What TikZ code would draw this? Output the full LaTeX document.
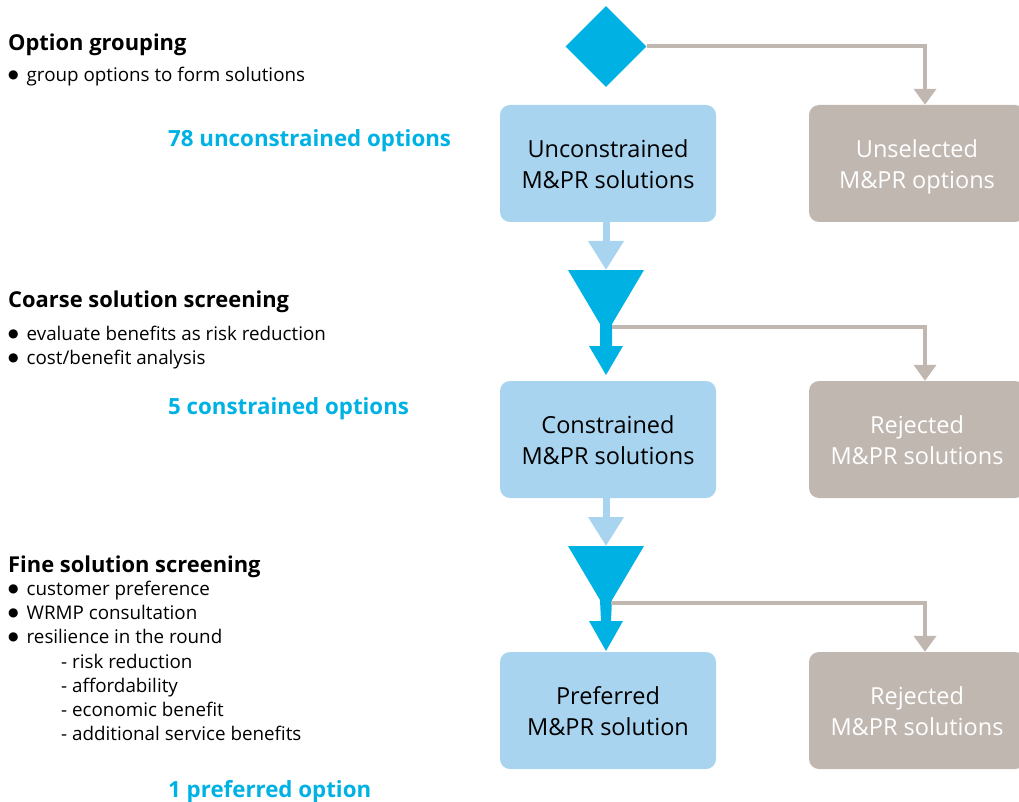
\documentclass[tikz,border=0pt]{standalone}
\usepackage{fontspec}
\setmainfont{Open Sans}
\newfontfamily\symfont{DejaVu Sans}
\usetikzlibrary{arrows.meta,shapes.geometric}
\definecolor{cyanA}{HTML}{00B2E3}
\definecolor{paleblue}{HTML}{A8D4F0}
\definecolor{taupe}{HTML}{C1B7B1}
\newcommand{\bul}{\raisebox{3pt}{\symfont\fontsize{12}{12}\selectfont ●}\hspace{8pt}}
\newcommand{\boxstrut}{\rule[-6.3pt]{0pt}{31pt}}
\begin{document}
\begin{tikzpicture}[x=1pt,y=-1pt,
  solbox/.style={fill=paleblue,rounded corners=10pt,minimum width=216pt,minimum height=117pt,
    align=center,inner sep=0pt,font=\fontsize{23.5}{31}\selectfont,text=black},
  rejbox/.style={solbox,fill=taupe,text=white},
  heading/.style={anchor=base west,inner sep=0pt,font=\fontsize{21.9}{26}\selectfont\bfseries},
  bodytxt/.style={anchor=base west,inner sep=0pt,font=\fontsize{18.8}{22}\selectfont},
  count/.style={anchor=base west,inner sep=0pt,text=cyanA,font=\fontsize{22.3}{26}\selectfont\bfseries},
  feed/.style={paleblue,line width=7pt,-{Triangle[width=34pt,length=29pt]}},
  drop/.style={taupe,line width=4pt,-{Triangle[width=22pt,length=16pt]}},
  funnel/.style={fill=cyanA,draw=none}]
\useasboundingbox (0,0) rectangle (1019,802);
\clip (0,0) rectangle (1019,802);

% decision diamond
\node[diamond,fill=cyanA,minimum width=81pt,minimum height=81pt,inner sep=0pt] (dec) at (606,46.5) {};

% solution boxes
\node[solbox] (u)  at (608,163.5) {\boxstrut Unconstrained\\\boxstrut M\&PR solutions};
\node[rejbox] (us) at (917,163.5) {\boxstrut Unselected\\\boxstrut M\&PR options};
\node[solbox] (c)  at (608,439.5) {\boxstrut Constrained\\\boxstrut M\&PR solutions};
\node[rejbox] (r1) at (917,439.5) {\boxstrut Rejected\\\boxstrut M\&PR solutions};
\node[solbox] (p)  at (608,710.5) {\boxstrut Preferred\\\boxstrut M\&PR solution};
\node[rejbox] (r2) at (917,710.5) {\boxstrut Rejected\\\boxstrut M\&PR solutions};

% screening funnels
\fill[funnel] (568,270) -- (644,270) -- (612,324) -- (612,346) -- (623,346) -- (606,375)
  -- (589,346) -- (600,346) -- (600,324) -- cycle;
\fill[funnel] (568,546) -- (644,546) -- (612,600) -- (611,621) -- (623,621) -- (606,651)
  -- (589,621) -- (601,621) -- (600,600) -- cycle;
\coordinate (f1top) at (606,270);
\coordinate (f1neck) at (612,327);
\coordinate (f2top) at (606,546);
\coordinate (f2neck) at (611,603);

% connectors
\draw[feed] (u.south -| f1top) -- (f1top);
\draw[feed] (c.south -| f2top) -- (f2top);
\draw[drop] (dec.east) -| (us.north -| 925,0);
\draw[drop] (f1neck) -| (r1.north -| 925,0);
\draw[drop] (f2neck) -| (r2.north -| 925,0);

% left column: stage descriptions
\node[heading] (h1) at (8,51) {Option grouping};
\node[bodytxt] (h1a) at (8,82) {\bul group options to form solutions};
\node[count] (n1) at (168,147) {78 unconstrained options};

\node[heading] (h2) at (8,307) {Coarse solution screening};
\node[bodytxt] (h2a) at (8,340) {\bul evaluate benefits as risk reduction};
\node[bodytxt] (h2b) at (8,364) {\bul cost/benefit analysis};
\node[count] (n2) at (168,414) {5 constrained options};

\node[heading] (h3) at (8,572) {Fine solution screening};
\node[bodytxt] (h3a) at (8,595) {\bul customer preference};
\node[bodytxt] (h3b) at (8,619) {\bul WRMP consultation};
\node[bodytxt] (h3c) at (8,643) {\bul resilience in the round};
\node[bodytxt] (h3d) at (61,668) {- risk reduction};
\node[bodytxt] (h3e) at (61,692) {- affordability};
\node[bodytxt] (h3f) at (61,716) {- economic benefit};
\node[bodytxt] (h3g) at (61,740) {- additional service benefits};
\node[count] (n3) at (168,797) {1 preferred option};
\end{tikzpicture}
\end{document}
